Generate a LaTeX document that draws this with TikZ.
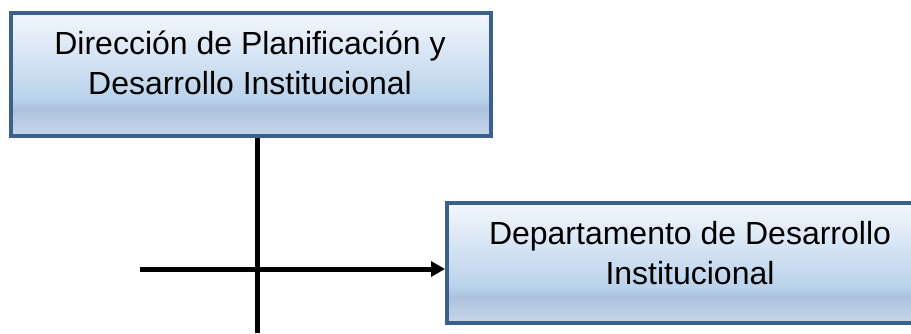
\documentclass[tikz,border=0pt]{standalone}
\usepackage{fontspec}
\setmainfont{Liberation Sans}
\usetikzlibrary{arrows.meta,shadows,backgrounds}
\definecolor{bordc}{RGB}{60,96,142}
\definecolor{gtop}{RGB}{243,247,252}
\definecolor{gmid}{RGB}{186,210,235}
\definecolor{gband}{RGB}{172,193,221}
\definecolor{gbot}{RGB}{200,216,236}
\pgfdeclareverticalshading{boxshade}{100bp}{color(0bp)=(gbot); color(25bp)=(gbot); color(36bp)=(gband); color(40bp)=(gmid); color(75bp)=(gtop); color(100bp)=(gtop)}
\tikzset{
  orgbox/.style={draw=bordc, line width=4pt, shading=boxshade, rectangle, inner sep=0pt,
    drop shadow={opacity=0.25, shadow xshift=2pt, shadow yshift=-2pt}},
  boxtext/.style={anchor=north, align=center, inner sep=0pt, text=black,
    font=\fontsize{32}{40}\selectfont},
  conn/.style={draw=black, line width=5pt},
  tip/.style={-{Triangle[length=14pt,width=15pt]}}
}
\begin{document}
\begin{tikzpicture}[x=1pt,y=-1pt]
\useasboundingbox (0,0) rectangle (911,333);
\node[orgbox, minimum width=480pt, minimum height=123pt] (b1) at (250.5,74) {};
\node[orgbox, minimum width=486pt, minimum height=120pt] (b2) at (690,263) {};
\node[boxtext] (t1) at (250,24) {\rule{0pt}{30pt}Dirección de Planificación y\\Desarrollo Institucional};
\node[boxtext] (t2) at (690,214) {\rule{0pt}{30pt}Departamento de Desarrollo\\Institucional};
\coordinate (vend) at (257,333);
\coordinate (hstart) at (140,269);
\begin{scope}[on background layer]
\draw[conn] (b1.south -| vend) -- (vend);
\draw[conn,tip] (hstart) -- (hstart -| b2.west);
\end{scope}
\end{tikzpicture}
\end{document}
